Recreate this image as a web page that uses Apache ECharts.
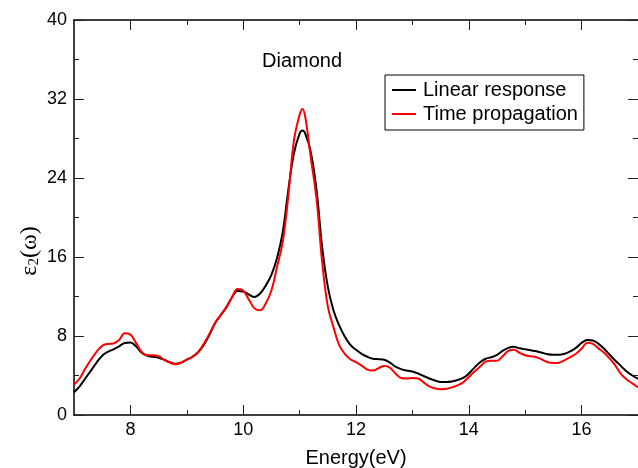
<!DOCTYPE html>
<html><head><meta charset="utf-8">
<script src="https://cdn.jsdelivr.net/npm/echarts@6/dist/echarts.min.js"></script>
<style>html,body{margin:0;padding:0;background:#fff}#c{width:638px;height:468px}</style>
</head><body><div id="c"></div>
<script>
var energy = [7.0,7.1,7.2,7.3,7.4,7.5,7.6,7.7,7.8,7.9,8.0,8.1,8.2,8.3,8.4,8.5,8.6,8.7,8.8,8.9,
9.0,9.1,9.2,9.3,9.4,9.5,9.6,9.7,9.8,9.9,10.0,10.1,10.2,10.3,10.4,10.5,10.6,10.7,10.8,10.9,
11.0,11.05,11.1,11.2,11.3,11.4,11.5,11.6,11.7,11.8,11.9,12.0,12.1,12.2,12.3,12.4,12.5,12.6,12.7,12.8,12.9,
13.0,13.1,13.2,13.3,13.4,13.5,13.6,13.7,13.8,13.9,14.0,14.1,14.2,14.3,14.4,14.5,14.6,14.7,14.8,14.9,
15.0,15.1,15.2,15.3,15.4,15.5,15.6,15.7,15.8,15.9,16.0,16.1,16.2,16.3,16.4,16.5,16.6,16.7,16.8,16.9,17.0];
var linearResponse = [2.3,2.9,3.7,4.5,5.3,6.0,6.4,6.65,6.95,7.3,7.35,6.95,6.3,6.0,5.9,5.8,5.6,5.35,5.2,5.3,
5.6,5.9,6.35,7.1,8.1,9.3,10.1,10.9,11.9,12.55,12.5,12.2,11.95,12.3,13.1,14.2,15.9,18.5,22.8,26.5,
28.5,28.8,28.5,26.6,22.8,17.0,13.0,10.6,9.1,7.95,7.1,6.6,6.2,5.9,5.7,5.65,5.6,5.3,4.9,4.65,4.5,
4.4,4.2,3.95,3.7,3.5,3.35,3.35,3.4,3.55,3.75,4.2,4.8,5.35,5.7,5.85,6.1,6.5,6.8,6.9,6.75,
6.65,6.55,6.45,6.3,6.15,6.1,6.1,6.2,6.45,6.8,7.3,7.6,7.55,7.2,6.7,6.1,5.5,4.95,4.4,4.0,3.65];
var timePropagation = [3.1,3.7,4.7,5.6,6.4,7.0,7.2,7.25,7.6,8.28,8.15,7.3,6.4,6.05,6.05,5.95,5.6,5.3,5.15,5.3,
5.6,5.9,6.35,7.2,8.2,9.3,10.1,10.9,11.9,12.75,12.6,11.7,10.8,10.6,11.3,12.6,15.0,17.5,22.2,27.8,
30.4,31.0,30.2,26.0,21.9,15.5,11.0,8.9,7.1,6.2,5.65,5.35,5.0,4.6,4.5,4.75,4.95,4.8,4.2,3.75,3.7,
3.75,3.7,3.3,2.9,2.7,2.6,2.65,2.8,3.0,3.3,3.85,4.4,4.9,5.4,5.5,5.5,5.95,6.5,6.6,6.3,
6.05,5.95,5.85,5.6,5.35,5.27,5.3,5.55,5.85,6.2,6.7,7.32,7.2,6.75,6.3,5.7,5.0,4.15,3.6,3.2,2.8];
var xMajorTicks = [8,10,12,14,16];
var xMinorTicks = [9,11,13,15];
var seriesNames = ['Linear response','Time propagation'];
var titleText = 'Diamond';

function pairs(xs, ys){ return xs.map(function(x,i){ return [x, ys[i]]; }); }
var FF = 'Liberation Sans, Arial, sans-serif';
function xAx(pos, ticks, len, showLine, showLabel){
  return {type:'value', position:pos, min:7, max:17,
    axisLine:{show:showLine, onZero:false, lineStyle:{color:'#000', width:1.5}},
    axisTick:{show:true, inside:true, length:len, customValues:ticks, lineStyle:{color:'#222', width:1}},
    axisLabel:{show:showLabel, customValues:ticks, fontSize:18, color:'#000', margin:6, fontFamily:FF},
    splitLine:{show:false}};
}
var xb = xAx('bottom', xMajorTicks, 10, true, true);
xb.name = 'Energy(eV)'; xb.nameLocation = 'middle'; xb.nameGap = 33;
xb.nameTextStyle = {fontSize:20, color:'#000', fontFamily:FF};
function yAx(pos, showLine, showLabel){
  return {type:'value', position:pos, min:0, max:40, interval:8,
    axisLine:{show:showLine, onZero:false, lineStyle:{color:'#000', width:1.5}},
    axisTick:{show:true, inside:true, length:10, lineStyle:{color:'#222', width:1}},
    minorTick:{show:true, splitNumber:2, length:5, lineStyle:{color:'#222', width:1}},
    axisLabel:{show:showLabel, fontSize:18, color:'#000', margin:7, fontFamily:FF},
    splitLine:{show:false}, minorSplitLine:{show:false}};
}

var chart = echarts.init(document.getElementById('c'), null, {renderer:'canvas'});
chart.setOption({
  animation:false,
  backgroundColor:'#fff',
  grid:{left:74, top:20, right:0, bottom:53, containLabel:false, outerBoundsMode:'none'},
  title:{text:titleText, left:262, top:51, padding:0,
    textStyle:{fontSize:20, fontWeight:'normal', color:'#000', fontFamily:FF}},
  legend:{orient:'vertical', left:385, top:75, padding:[5,6,6,7], itemGap:4,
    icon:'rect', itemWidth:24, itemHeight:2, borderColor:'#000', borderWidth:1, borderRadius:0,
    backgroundColor:'#fff', textStyle:{fontSize:20, color:'#000', fontFamily:FF, padding:[0,0,0,2]},
    data:seriesNames},
  graphic:[{type:'text', x:30, y:251, rotation:Math.PI/2,
    style:{text:'{a|ε}{b|2}{a|(ω)}', align:'center', verticalAlign:'middle',
      rich:{a:{fontSize:24, fontFamily:'Liberation Serif, serif', fill:'#000', color:'#000'},
            b:{fontSize:15, fontFamily:'Liberation Serif, serif', fill:'#000', color:'#000', verticalAlign:'bottom', padding:[8,0,0,0]}}}}],
  xAxis:[xb, xAx('bottom', xMinorTicks, 5, false, false), xAx('top', xMajorTicks, 10, true, false), xAx('top', xMinorTicks, 5, false, false)],
  yAxis:[yAx('left', true, true), yAx('right', false, false)],
  series:[
    {name:seriesNames[0], type:'line', xAxisIndex:0, yAxisIndex:0, data:pairs(energy, linearResponse),
     smooth:0.4, symbol:'none', showSymbol:false, lineStyle:{color:'#000', width:2}, itemStyle:{color:'#000'}},
    {name:seriesNames[1], type:'line', xAxisIndex:0, yAxisIndex:0, data:pairs(energy, timePropagation),
     smooth:0.4, symbol:'none', showSymbol:false, lineStyle:{color:'#f00', width:2}, itemStyle:{color:'#f00'}}
  ]
});
</script></body></html>
